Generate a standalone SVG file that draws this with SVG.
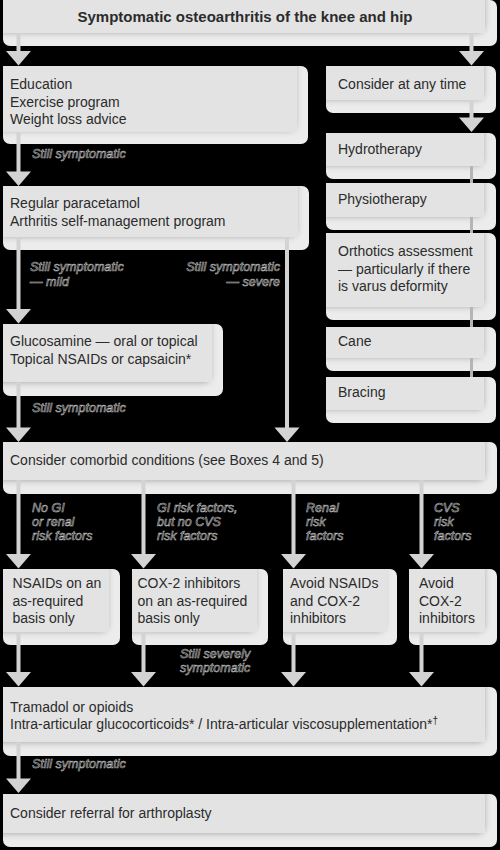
<svg xmlns="http://www.w3.org/2000/svg" width="500" height="850" viewBox="0 0 500 850">
<defs>
<style>
.sh{fill:#ececec;filter:url(#shf)}
.bx{fill:#e3e3e3}
.t{font-family:"Liberation Sans",Arial,sans-serif;font-size:14px;fill:#2b2b2b}
.tb{font-family:"Liberation Sans",Arial,sans-serif;font-size:15px;font-weight:bold;fill:#2b2b2b}
.lb{font-family:"Liberation Sans",Arial,sans-serif;font-size:12.5px;font-style:italic;fill:#000;stroke:#c4c4c4;stroke-width:0.55}
.ln{stroke:#d3d3d3;stroke-width:4;fill:none}
.lc{stroke:#b5b5b5;stroke-width:3;fill:none}
.ah{fill:#d3d3d3}
</style>
<filter id="shf">
<feOffset in="SourceAlpha" dx="-12" dy="-13" result="o"/>
<feGaussianBlur in="o" stdDeviation="3" result="b"/>
<feFlood flood-color="#000" flood-opacity="0.55"/>
<feComposite in2="b" operator="in" result="s"/>
<feComposite in="s" in2="SourceAlpha" operator="in" result="s2"/>
<feMerge><feMergeNode in="SourceGraphic"/><feMergeNode in="s2"/></feMerge>
</filter>
<polygon id="ah" points="-12.5,0 12.5,0 0,14.5" class="ah"/>
</defs>
<rect width="500" height="850" fill="#000"/>

<g id="title">
<rect class="sh" x="3" y="0" width="494" height="46" rx="7"/>
<rect class="bx" x="3" y="0" width="482" height="33"/>
<text class="tb" x="245" y="22" text-anchor="middle">Symptomatic osteoarthritis of the knee and hip</text>
</g>
<g id="education">
<rect class="sh" x="3" y="66" width="305" height="78" rx="7"/>
<rect class="bx" x="3" y="66" width="294" height="66"/>
<text class="t" x="10" y="89">Education</text>
<text class="t" x="10" y="106.5">Exercise program</text>
<text class="t" x="10" y="124">Weight loss advice</text>
</g>
<g id="consider">
<rect class="sh" x="326" y="66" width="170" height="47" rx="7"/>
<rect class="bx" x="326" y="66" width="158" height="34"/>
<text class="t" x="338" y="89">Consider at any time</text>
</g>
<g id="hydro">
<rect class="sh" x="326" y="133" width="170" height="46" rx="7"/>
<rect class="bx" x="326" y="133" width="158" height="33"/>
<text class="t" x="338" y="154">Hydrotherapy</text>
</g>
<g id="physio">
<rect class="sh" x="326" y="183" width="170" height="47" rx="7"/>
<rect class="bx" x="326" y="183" width="158" height="34"/>
<text class="t" x="338" y="204">Physiotherapy</text>
</g>
<g id="orthotics">
<rect class="sh" x="326" y="233" width="170" height="87" rx="7"/>
<rect class="bx" x="326" y="233" width="158" height="74"/>
<text class="t" x="338" y="256">Orthotics assessment</text>
<text class="t" x="338" y="273.5">— particularly if there</text>
<text class="t" x="338" y="291">is varus deformity</text>
</g>
<g id="cane">
<rect class="sh" x="326" y="327" width="170" height="44" rx="7"/>
<rect class="bx" x="326" y="327" width="158" height="31"/>
<text class="t" x="338" y="346">Cane</text>
</g>
<g id="bracing">
<rect class="sh" x="326" y="377" width="170" height="46" rx="7"/>
<rect class="bx" x="326" y="377" width="158" height="33"/>
<text class="t" x="338" y="397">Bracing</text>
</g>
<g id="paracetamol">
<rect class="sh" x="3" y="186" width="306" height="64" rx="7"/>
<rect class="bx" x="3" y="186" width="295" height="51"/>
<text class="t" x="10" y="208">Regular paracetamol</text>
<text class="t" x="10" y="226">Arthritis self-management program</text>
</g>
<g id="glucosamine">
<rect class="sh" x="3" y="324" width="220" height="72" rx="7"/>
<rect class="bx" x="3" y="324" width="209" height="58"/>
<text class="t" x="10" y="346">Glucosamine — oral or topical</text>
<text class="t" x="10" y="363.5">Topical NSAIDs or capsaicin*</text>
</g>
<g id="comorbid">
<rect class="sh" x="3" y="442" width="494" height="52" rx="7"/>
<rect class="bx" x="3" y="442" width="482" height="38"/>
<text class="t" x="10" y="465">Consider comorbid conditions (see Boxes 4 and 5)</text>
</g>
<g id="nsaids">
<rect class="sh" x="3" y="569" width="117" height="76" rx="7"/>
<rect class="bx" x="3" y="569" width="106" height="63"/>
<text class="t" x="12.5" y="588">NSAIDs on an</text>
<text class="t" x="12.5" y="605.5">as-required</text>
<text class="t" x="12.5" y="623">basis only</text>
</g>
<g id="cox2">
<rect class="sh" x="132" y="569" width="136" height="76" rx="7"/>
<rect class="bx" x="132" y="569" width="125" height="63"/>
<text class="t" x="137.5" y="588">COX-2 inhibitors</text>
<text class="t" x="137.5" y="605.5">on an as-required</text>
<text class="t" x="137.5" y="623">basis only</text>
</g>
<g id="avoidboth">
<rect class="sh" x="283" y="569" width="114" height="76" rx="7"/>
<rect class="bx" x="283" y="569" width="104" height="63"/>
<text class="t" x="290" y="588">Avoid NSAIDs</text>
<text class="t" x="290" y="605.5">and COX-2</text>
<text class="t" x="290" y="623">inhibitors</text>
</g>
<g id="avoidcox">
<rect class="sh" x="409" y="569" width="88" height="76" rx="7"/>
<rect class="bx" x="409" y="569" width="76" height="63"/>
<text class="t" x="419" y="588">Avoid</text>
<text class="t" x="419" y="605.5">COX-2</text>
<text class="t" x="419" y="623">inhibitors</text>
</g>
<g id="tramadol">
<rect class="sh" x="3" y="687" width="494" height="69" rx="7"/>
<rect class="bx" x="3" y="687" width="482" height="55"/>
<text class="t" x="10" y="711.5">Tramadol or opioids</text>
<text class="t" x="10" y="728.5">Intra-articular glucocorticoids* / Intra-articular viscosupplementation*<tspan dy="-5" font-size="10">†</tspan></text>
</g>
<g id="arthroplasty">
<rect class="sh" x="3" y="794" width="494" height="53" rx="7"/>
<rect class="bx" x="3" y="794" width="482" height="39"/>
<text class="t" x="10" y="818">Consider referral for arthroplasty</text>
</g>

<g id="connectors">
<line class="ln" x1="18.5" y1="33" x2="18.5" y2="52"/><use href="#ah" x="18.5" y="51"/>
<line class="ln" x1="471.5" y1="33" x2="471.5" y2="52"/><use href="#ah" x="471.5" y="51"/>
<line class="ln" x1="471.5" y1="100" x2="471.5" y2="118"/><use href="#ah" x="471.5" y="117.5"/>
<line class="lc" x1="471.5" y1="166" x2="471.5" y2="183"/>
<line class="lc" x1="471.5" y1="217" x2="471.5" y2="233"/>
<line class="lc" x1="471.5" y1="307" x2="471.5" y2="327"/>
<line class="lc" x1="471.5" y1="358" x2="471.5" y2="377"/>
<line class="ln" x1="18.5" y1="132" x2="18.5" y2="172"/><use href="#ah" x="18.5" y="171.5"/>
<line class="ln" x1="18.5" y1="237" x2="18.5" y2="310"/><use href="#ah" x="18.5" y="309"/>
<line class="ln" x1="287" y1="237" x2="287" y2="428"/><use href="#ah" x="287" y="427.5"/>
<line class="ln" x1="18.5" y1="382" x2="18.5" y2="428"/><use href="#ah" x="18.5" y="427.5"/>
<line class="ln" x1="18.5" y1="480" x2="18.5" y2="555"/><use href="#ah" x="18.5" y="554"/>
<line class="ln" x1="143.5" y1="480" x2="143.5" y2="555"/><use href="#ah" x="143.5" y="554"/>
<line class="ln" x1="293.5" y1="480" x2="293.5" y2="555"/><use href="#ah" x="293.5" y="554"/>
<line class="ln" x1="421.5" y1="480" x2="421.5" y2="555"/><use href="#ah" x="421.5" y="554"/>
<line class="ln" x1="18.5" y1="632" x2="18.5" y2="673"/><use href="#ah" x="18.5" y="672"/>
<line class="ln" x1="143.5" y1="632" x2="143.5" y2="673"/><use href="#ah" x="143.5" y="672"/>
<line class="ln" x1="293.5" y1="632" x2="293.5" y2="673"/><use href="#ah" x="293.5" y="672"/>
<line class="ln" x1="421.5" y1="632" x2="421.5" y2="673"/><use href="#ah" x="421.5" y="672"/>
<line class="ln" x1="18.5" y1="742" x2="18.5" y2="779"/><use href="#ah" x="18.5" y="778.5"/>
</g>

<g id="labels">
<text class="lb" x="32" y="158">Still symptomatic</text>
<text class="lb" x="30" y="271">Still symptomatic</text>
<text class="lb" x="30" y="286">— mild</text>
<text class="lb" x="280" y="271" text-anchor="end">Still symptomatic</text>
<text class="lb" x="280" y="286" text-anchor="end">— severe</text>
<text class="lb" x="32" y="412">Still symptomatic</text>
<text class="lb" x="32" y="512">No GI</text>
<text class="lb" x="32" y="526">or renal</text>
<text class="lb" x="32" y="540">risk factors</text>
<text class="lb" x="157" y="512">GI risk factors,</text>
<text class="lb" x="157" y="526">but no CVS</text>
<text class="lb" x="157" y="540">risk factors</text>
<text class="lb" x="306" y="512">Renal</text>
<text class="lb" x="306" y="526">risk</text>
<text class="lb" x="306" y="540">factors</text>
<text class="lb" x="434" y="512">CVS</text>
<text class="lb" x="434" y="526">risk</text>
<text class="lb" x="434" y="540">factors</text>
<text class="lb" x="180" y="658">Still severely</text>
<text class="lb" x="180" y="672">symptomatic</text>
<text class="lb" x="32" y="768">Still symptomatic</text>
</g>
</svg>
